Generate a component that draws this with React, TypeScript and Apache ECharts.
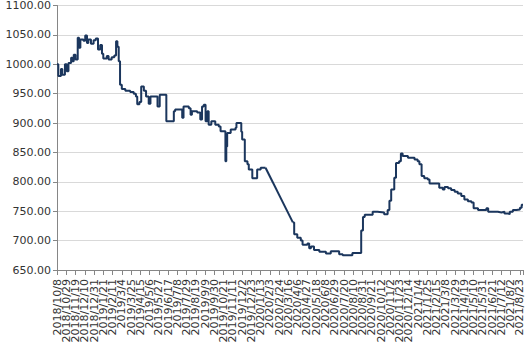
import React, { useEffect, useRef } from "react";
import * as echarts from "echarts";

// Step changes before the early-2020 data gap: [date, value]
const segmentBefore: [string, number][] = [
  ["2018/10/8", 1000], ["2018/10/11", 980], ["2018/10/17", 992], ["2018/10/20", 982],
  ["2018/10/26", 1000], ["2018/10/30", 988], ["2018/11/3", 1002], ["2018/11/9", 1011],
  ["2018/11/12", 1005], ["2018/11/15", 1016], ["2018/11/19", 1008], ["2018/11/24", 1045],
  ["2018/11/27", 1028], ["2018/11/30", 1042], ["2018/12/7", 1040], ["2018/12/11", 1049],
  ["2018/12/15", 1036], ["2018/12/18", 1042], ["2018/12/24", 1035], ["2018/12/30", 1041],
  ["2019/1/4", 1044], ["2019/1/9", 1025], ["2019/1/14", 1033], ["2019/1/18", 1018],
  ["2019/1/21", 1010], ["2019/1/29", 1014], ["2019/2/2", 1008], ["2019/2/9", 1012],
  ["2019/2/15", 1015], ["2019/2/19", 1039], ["2019/2/22", 1030], ["2019/2/25", 1005],
  ["2019/2/28", 965], ["2019/3/4", 958], ["2019/3/12", 955], ["2019/3/23", 953],
  ["2019/3/31", 950], ["2019/4/5", 945], ["2019/4/8", 932], ["2019/4/13", 936],
  ["2019/4/17", 962], ["2019/4/23", 955], ["2019/4/28", 945], ["2019/5/4", 933],
  ["2019/5/8", 945], ["2019/5/24", 928], ["2019/5/29", 948], ["2019/6/13", 903],
  ["2019/6/30", 920], ["2019/7/3", 923], ["2019/7/19", 909], ["2019/7/22", 928],
  ["2019/8/3", 925], ["2019/8/7", 914], ["2019/8/10", 920], ["2019/8/22", 918],
  ["2019/8/29", 906], ["2019/9/2", 928], ["2019/9/6", 931], ["2019/9/10", 903],
  ["2019/9/14", 920], ["2019/9/17", 897], ["2019/9/23", 903], ["2019/10/2", 897],
  ["2019/10/10", 894], ["2019/10/14", 886], ["2019/10/25", 835], ["2019/10/27", 860],
  ["2019/10/29", 883], ["2019/11/6", 889], ["2019/11/17", 892], ["2019/11/19", 900],
  ["2019/11/30", 885], ["2019/12/2", 872], ["2019/12/8", 835], ["2019/12/14", 830],
  ["2019/12/17", 821], ["2019/12/25", 806], ["2020/1/5", 821], ["2020/1/13", 824],
  ["2020/1/24", 824],
];

// Straight line across the data gap
const segmentGap: [string, number][] = [
  ["2020/1/24", 824], ["2020/3/26", 731],
];

// Step changes after the gap
const segmentAfter: [string, number][] = [
  ["2020/3/26", 731], ["2020/3/29", 711], ["2020/4/5", 705], ["2020/4/13", 700],
  ["2020/4/17", 693], ["2020/4/28", 695], ["2020/5/2", 687], ["2020/5/6", 690],
  ["2020/5/13", 684], ["2020/5/25", 681], ["2020/6/9", 678], ["2020/6/20", 682],
  ["2020/7/9", 677], ["2020/7/17", 675], ["2020/8/8", 679], ["2020/8/28", 717],
  ["2020/9/1", 740], ["2020/9/5", 744], ["2020/9/23", 749], ["2020/10/4", 748],
  ["2020/10/19", 745], ["2020/10/27", 752], ["2020/10/31", 768], ["2020/11/4", 787],
  ["2020/11/11", 807], ["2020/11/15", 832], ["2020/11/22", 835], ["2020/11/26", 848],
  ["2020/11/30", 844], ["2020/12/12", 841], ["2020/12/27", 838], ["2021/1/3", 835],
  ["2021/1/7", 830], ["2021/1/12", 810], ["2021/1/18", 806], ["2021/1/26", 804],
  ["2021/1/30", 797], ["2021/2/21", 790], ["2021/3/1", 787], ["2021/3/5", 791],
  ["2021/3/13", 789], ["2021/3/20", 786], ["2021/3/28", 783], ["2021/4/4", 780],
  ["2021/4/12", 776], ["2021/4/19", 770], ["2021/4/27", 767], ["2021/5/5", 765],
  ["2021/5/10", 755], ["2021/5/20", 752], ["2021/6/8", 755], ["2021/6/12", 749],
  ["2021/7/4", 748], ["2021/7/12", 749], ["2021/7/19", 746], ["2021/7/27", 745],
  ["2021/7/31", 749], ["2021/8/7", 752], ["2021/8/15", 753], ["2021/8/23", 756],
  ["2021/8/27", 761], ["2021/8/30", 762],
];

const startDate = [2018, 10, 8];
const endDate = [2021, 8, 30];
const yMin = 650;
const yMax = 1100;
const yStep = 50;
const labelEvery = 21; // days between x-axis labels

function buildCategories(): string[] {
  const out: string[] = [];
  const d = new Date(startDate[0], startDate[1] - 1, startDate[2]);
  const end = new Date(endDate[0], endDate[1] - 1, endDate[2]);
  while (d <= end) {
    out.push(`${d.getFullYear()}/${d.getMonth() + 1}/${d.getDate()}`);
    d.setDate(d.getDate() + 1);
  }
  return out;
}

export default function App() {
  const ref = useRef<HTMLDivElement>(null);
  useEffect(() => {
    if (!ref.current) return;
    const chart = echarts.init(ref.current, undefined, { renderer: "svg" });
    const categories = buildCategories();
    const color = "#1b365d";
    const font = "DejaVu Sans";
    const lineBase = {
      type: "line" as const,
      symbol: "none",
      showSymbol: false,
      lineStyle: { color, width: 2 },
      itemStyle: { color },
      silent: true,
    };
    chart.setOption({
      animation: false,
      grid: { left: 57, right: 7, top: 4.5, bottom: 84, containLabel: false },
      xAxis: {
        type: "category",
        data: categories,
        boundaryGap: false,
        axisLine: { show: true, lineStyle: { color: "#868686", width: 1 } },
        axisTick: { show: true, interval: labelEvery - 1, length: 5, lineStyle: { color: "#868686" } },
        axisLabel: {
          interval: 0,
          rotate: 90,
          fontSize: 11,
          fontFamily: font,
          color: "#333",
          margin: 9,
          formatter: (v: string, i: number) => (i % labelEvery === 0 ? v : ""),
        },
        splitLine: { show: false },
      },
      yAxis: {
        type: "value",
        min: yMin,
        max: yMax,
        interval: yStep,
        axisLine: { show: true, lineStyle: { color: "#868686", width: 1 } },
        axisTick: { show: true, length: 4, lineStyle: { color: "#868686" } },
        axisLabel: {
          fontSize: 11,
          fontFamily: font,
          color: "#333",
          margin: 6,
          formatter: (v: number) => v.toFixed(2),
        },
        splitLine: { show: true, lineStyle: { color: "#d9d9d9", width: 1 } },
      },
      series: [
        { ...lineBase, step: "end", data: segmentBefore },
        { ...lineBase, data: segmentGap },
        { ...lineBase, step: "end", data: segmentAfter },
      ],
    });
    return () => chart.dispose();
  }, []);
  return (
    <div
      ref={ref}
      style={{ position: "fixed", left: 0, top: 0, width: 530, height: 354, background: "#fff" }}
    />
  );
}
